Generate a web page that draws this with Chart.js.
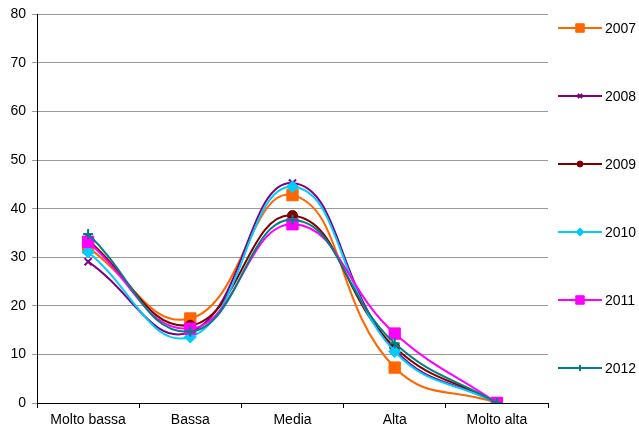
<!DOCTYPE html>
<html>
<head>
<meta charset="utf-8">
<script src="https://cdn.jsdelivr.net/npm/chart.js@4/dist/chart.umd.min.js"></script>
<style>
  html, body { margin: 0; padding: 0; background: #fff; }
  #wrap { width: 639px; height: 430px; }
</style>
</head>
<body>
<div id="wrap"><canvas id="chart"></canvas></div>
<script>
// categories and series
const categories = ["Molto bassa", "Bassa", "Media", "Alta", "Molto alta"];
const years = ["2007", "2008", "2009", "2010", "2011", "2012"];
const s2007 = [32, 17.4, 42.8, 7.3, 0];
const s2008 = [29.1, 14.6, 45.3, 11, 0];
const s2009 = [33.5, 16, 38.6, 11.5, 0];
const s2010 = [31.1, 13.6, 44.5, 10.6, 0];
const s2011 = [33.2, 15.3, 36.8, 14.3, 0];
const s2012 = [34.8, 14.7, 37.7, 12.3, 0];
const yTicks = [0, 10, 20, 30, 40, 50, 60, 70, 80];

const seriesValues = [s2007, s2008, s2009, s2010, s2011, s2012];
const colors = ["#FF6600", "#800080", "#800000", "#00CCFF", "#FF00FF", "#008080"];
const markers = ["rect", "crossRot", "circle", "rectRot", "rect", "cross"];
const radii = [8, 5, 5, 6, 8, 5];
const fontFamily = "'Liberation Sans', Arial, sans-serif";

const datasets = years.map((y, i) => ({
  label: y,
  data: seriesValues[i],
  borderColor: colors[i],
  backgroundColor: colors[i],
  borderWidth: 2,
  pointStyle: markers[i],
  pointRadius: radii[i],
  pointBorderWidth: (markers[i] === "cross" || markers[i] === "crossRot") ? 2 : 1,
  tension: 0.45,
  fill: false,
  order: years.length - i,
}));

// legend drawn as Excel-style line + marker entries
const sideLegend = {
  id: "sideLegend",
  afterDraw(chart) {
    const ctx = chart.ctx;
    const x0 = 558, x1 = 602, top = 28, gap = 68;
    ctx.save();
    years.forEach((y, i) => {
      const cy = top + i * gap;
      ctx.strokeStyle = colors[i];
      ctx.lineWidth = 2;
      ctx.beginPath();
      ctx.moveTo(x0, cy);
      ctx.lineTo(x1, cy);
      ctx.stroke();
      ctx.fillStyle = colors[i];
      ctx.lineWidth = (markers[i] === "cross" || markers[i] === "crossRot") ? 2 : 1;
      Chart.helpers.drawPoint(ctx, { pointStyle: markers[i], radius: radii[i] - 2, rotation: 0, borderWidth: 1 }, (x0 + x1) / 2, cy);
      ctx.fillStyle = "#000";
      ctx.font = "14px " + fontFamily;
      ctx.textBaseline = "middle";
      ctx.textAlign = "left";
      ctx.fillText(y, 605, cy + 1);
    });
    ctx.restore();
  }
};

new Chart(document.getElementById("chart"), {
  type: "line",
  data: { labels: categories, datasets: datasets },
  plugins: [sideLegend],
  options: {
    responsive: true,
    maintainAspectRatio: false,
    animation: false,
    layout: { padding: { top: 9, right: 91, left: 0, bottom: 0 } },
    plugins: {
      legend: { display: false },
      tooltip: { enabled: false },
    },
    scales: {
      x: {
        offset: true,
        afterFit: (scale) => { scale.height = 27; },
        grid: {
          display: true,
          offset: true,
          drawOnChartArea: false,
          drawTicks: true,
          tickLength: 5,
          color: "#000",
        },
        border: { display: true, color: "#000", width: 1 },
        ticks: {
          color: "#000",
          font: { family: fontFamily, size: 14 },
          maxRotation: 0,
          padding: 4,
        },
      },
      y: {
        min: 0,
        max: 80,
        afterBuildTicks: (scale) => { scale.ticks = yTicks.map(v => ({ value: v })); },
        afterFit: (scale) => { scale.width = 37; },
        grid: {
          color: "#999",
          tickLength: 5,
          lineWidth: 1,
        },
        border: { display: true, color: "#000", width: 1 },
        ticks: {
          color: "#000",
          font: { family: fontFamily, size: 14 },
          padding: 6,
        },
      },
    },
  },
});
</script>
</body>
</html>
